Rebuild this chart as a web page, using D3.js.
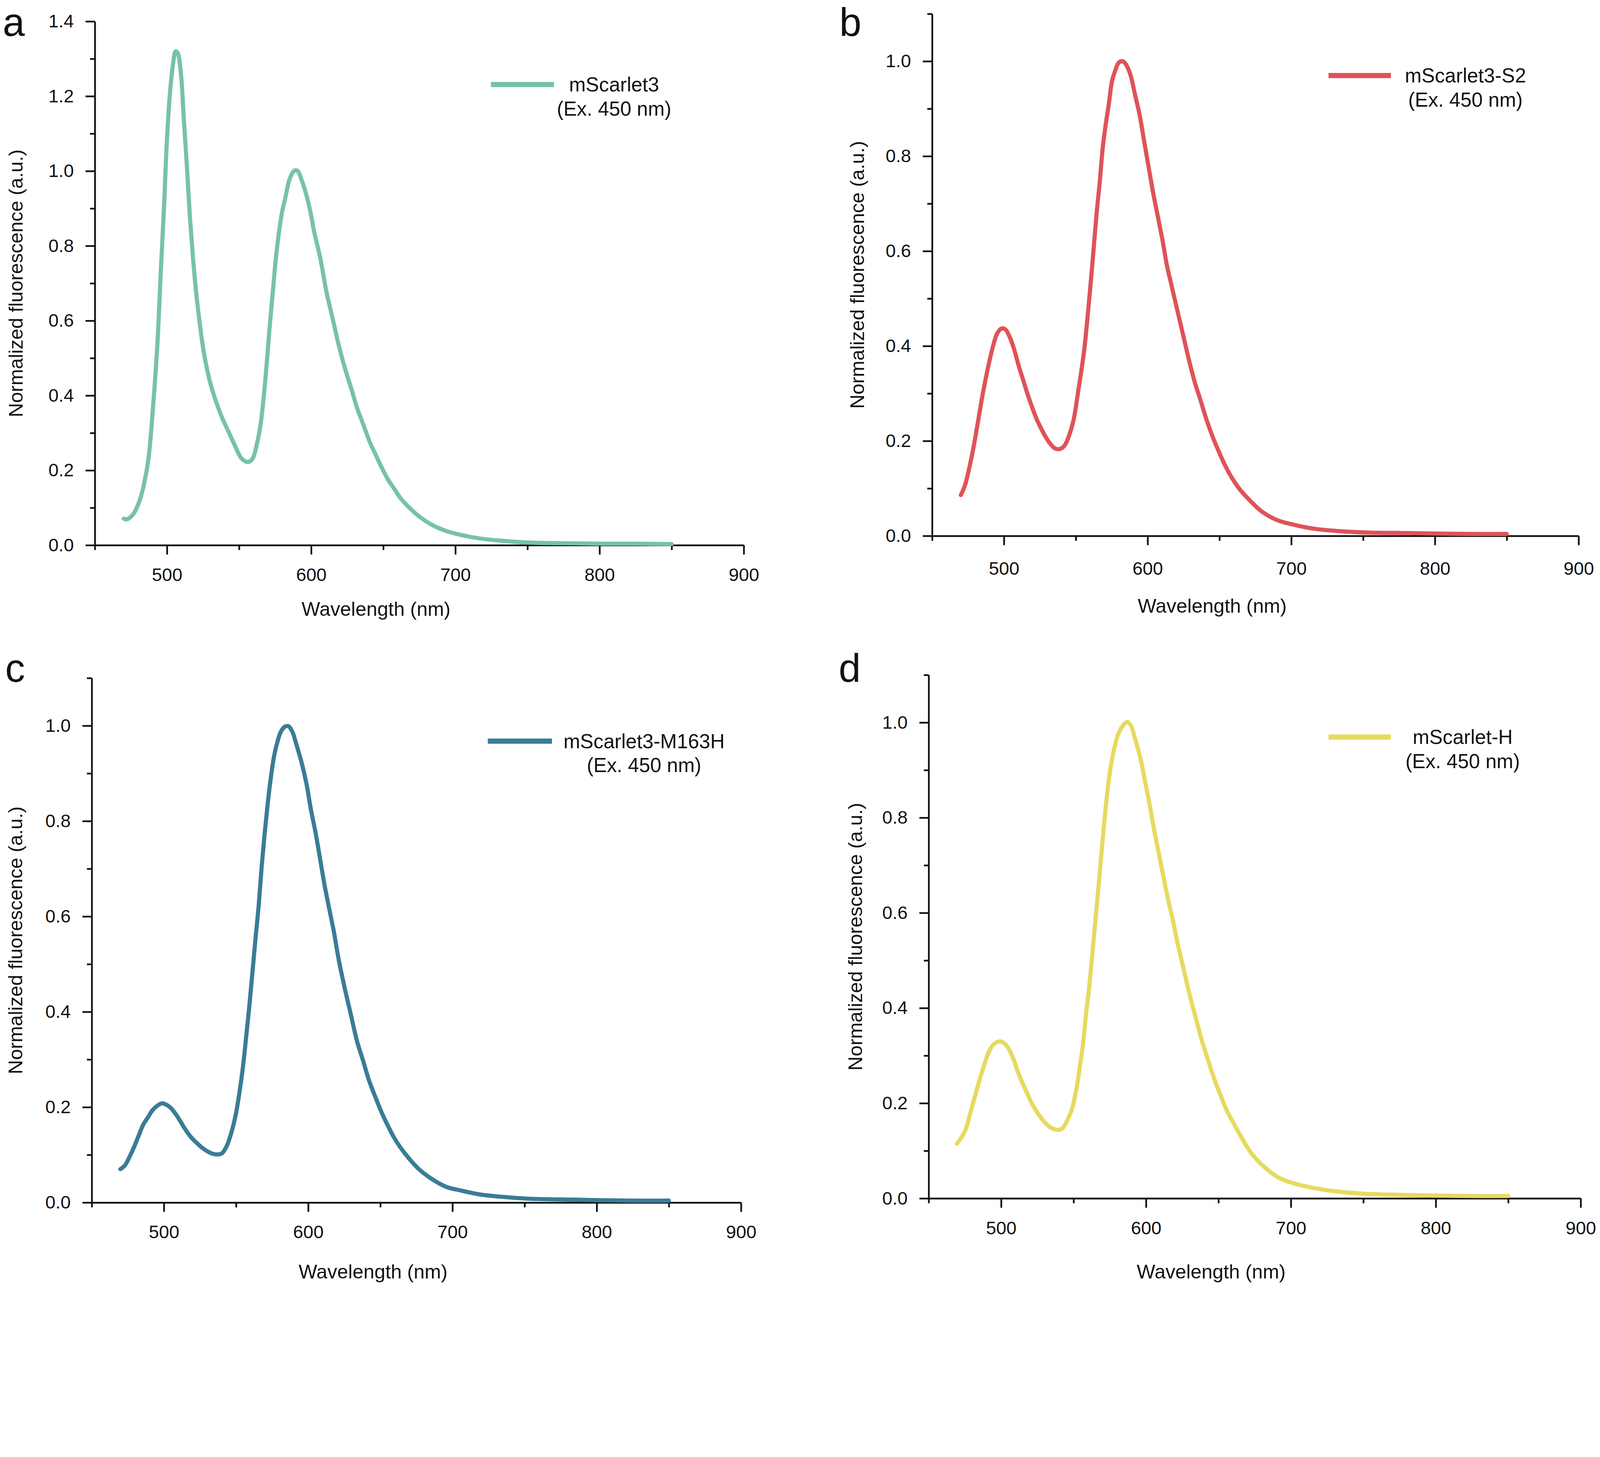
<!DOCTYPE html>
<html>
<head>
<meta charset="utf-8">
<script src="https://cdn.jsdelivr.net/npm/d3@7"></script>
<style>
  html, body { margin: 0; padding: 0; background: #fff; }
  svg { display: block; }
  text { font-family: "Liberation Sans", Arial, sans-serif; fill: #111; }
</style>
</head>
<body>
<script>
// emission spectra (wavelength in nm, normalized fluorescence)

var wlA = [470,472,476.6,480.9,484,487.2,489.4,491.5,493.6,495.7,497.9,500,502.1,504.3,506,507.4,509.6,511.7,513.8,516,518.1,520.2,522.3,525.5,529.8,534,538.3,542.6,546.8,551.1,554.3,557,559.6,562.8,564.9,567,569.1,571.3,573.4,575.5,577.7,579.8,581.9,585.1,588.3,590.4,593.6,596.8,600,602.1,606.4,610.6,614.9,619.1,623.4,627.7,631.9,636.2,640.4,644.7,649,653.2,657.4,661.7,668.1,674.5,683,693.6,704.3,717,731.9,751,782.6,800,825,850];
var fA = [0.071,0.069,0.083,0.118,0.162,0.233,0.322,0.429,0.553,0.730,0.899,1.085,1.209,1.289,1.320,1.316,1.263,1.138,1.014,0.872,0.766,0.677,0.606,0.517,0.437,0.384,0.340,0.304,0.269,0.235,0.224,0.223,0.233,0.278,0.322,0.393,0.482,0.588,0.677,0.766,0.837,0.890,0.925,0.979,1.001,1.001,0.974,0.934,0.881,0.837,0.766,0.677,0.606,0.535,0.473,0.420,0.366,0.322,0.278,0.242,0.207,0.176,0.152,0.127,0.100,0.078,0.056,0.038,0.027,0.018,0.012,0.007,0.005,0.004,0.004,0.003];

var wlB = [470,472.8,476,479.2,482.4,485.6,488.8,492,495.2,498.4,501,503.7,506.9,510.1,513.3,516.5,519.7,522.9,526.1,529.3,532.5,535.7,538.9,542.1,545.3,548.5,551.7,553.8,556,558.1,560.2,562.4,564.5,566.6,568.8,570.9,573,575.2,577.3,579.9,582.6,584.8,588,591.2,594.3,597.5,600.7,603.9,607.1,610.3,613.5,616.7,619.9,624.2,628.5,632.7,637,641.3,645.5,649.8,654,658.3,664.7,671.1,679.6,690.3,701,715.9,733,754.3,779.4,800,825,850];
var fB = [0.086,0.106,0.145,0.193,0.249,0.305,0.353,0.395,0.426,0.437,0.435,0.421,0.395,0.360,0.329,0.298,0.270,0.245,0.225,0.207,0.193,0.184,0.183,0.190,0.211,0.245,0.305,0.346,0.395,0.458,0.527,0.604,0.680,0.743,0.819,0.868,0.910,0.958,0.979,0.997,1.000,0.994,0.972,0.930,0.889,0.833,0.777,0.722,0.673,0.624,0.569,0.527,0.485,0.430,0.374,0.325,0.284,0.242,0.207,0.176,0.148,0.124,0.096,0.075,0.051,0.033,0.024,0.015,0.010,0.007,0.006,0.005,0.004,0.004];

var wlC = [469.8,473,476.2,479.4,482.6,485.8,489,492.2,495.4,498.6,501.8,504.9,508.1,511.3,514.5,518.8,523.1,527.3,531.6,535.9,540.1,543.3,546.5,549.7,552.9,555,557.2,559.3,561.4,563.5,565.7,567.8,569.9,572,574.2,576.3,578.4,581,583.8,586.3,589.1,591.6,595.5,598.7,601.9,605.1,608.3,611.4,614.6,617.8,621,625.3,629.6,633.8,638.1,642.3,646.6,650.9,655.1,659.4,663.6,670,676.4,684.9,695.6,706.2,719,734,753.1,784.6,800,825,850];
var fC = [0.070,0.078,0.096,0.117,0.141,0.164,0.179,0.194,0.203,0.208,0.205,0.198,0.186,0.171,0.155,0.137,0.124,0.113,0.105,0.101,0.103,0.117,0.144,0.183,0.242,0.290,0.353,0.415,0.484,0.554,0.623,0.706,0.776,0.838,0.893,0.935,0.963,0.987,0.998,0.999,0.987,0.963,0.922,0.880,0.824,0.776,0.720,0.665,0.616,0.568,0.512,0.450,0.394,0.339,0.297,0.255,0.221,0.189,0.162,0.137,0.117,0.092,0.071,0.051,0.033,0.025,0.017,0.012,0.008,0.006,0.005,0.004,0.004];

var wlD = [469.4,472.2,475.4,478.6,481.8,485,488.2,491.4,494.6,498.9,502.1,505.3,508.5,511.7,514.9,518.1,521.3,525.5,529.8,534.1,538.8,542.2,545.8,549,552.2,554.3,556.5,558.6,560.7,562.9,565,567.1,569.3,571.4,573.5,575.7,577.8,581,584.2,587,589.5,592.7,595.9,599.1,602.3,605.5,608.7,611.9,615.1,618.3,621.5,625.8,630.1,634.3,638.6,642.9,647.1,651.4,655.7,659.9,666.3,672.7,681.3,691.9,702.6,715.4,730.3,749.6,781.1,800,825,850];
var fD = [0.115,0.126,0.144,0.178,0.213,0.248,0.279,0.307,0.323,0.330,0.326,0.314,0.293,0.265,0.241,0.220,0.199,0.178,0.161,0.149,0.144,0.147,0.165,0.189,0.234,0.276,0.324,0.387,0.442,0.512,0.581,0.651,0.727,0.797,0.859,0.908,0.942,0.977,0.994,1.001,0.994,0.963,0.928,0.880,0.831,0.776,0.727,0.678,0.630,0.588,0.540,0.484,0.428,0.380,0.331,0.290,0.251,0.217,0.185,0.161,0.126,0.095,0.067,0.043,0.031,0.022,0.015,0.010,0.007,0.006,0.005,0.005];

var names = ["mScarlet3", "mScarlet3-S2", "mScarlet3-M163H", "mScarlet-H"];
var letters = ["a", "b", "c", "d"];
var exNote = "(Ex. 450 nm)";
var colors = ["#77c2a9", "#df5358", "#3a7c96", "#e6da60"];
var yMaxes = [1.4, 1.1, 1.1, 1.1];
var xMajor = [500, 600, 700, 800, 900];
var xMinor = [450, 550, 650, 750, 850];
var yMajorA = [0, 0.2, 0.4, 0.6, 0.8, 1.0, 1.2, 1.4];
var yMinorA = [0.1, 0.3, 0.5, 0.7, 0.9, 1.1, 1.3];
var yMajor = [0, 0.2, 0.4, 0.6, 0.8, 1.0];
var yMinor = [0.1, 0.3, 0.5, 0.7, 0.9, 1.1];

var series = [d3.zip(wlA, fA), d3.zip(wlB, fB), d3.zip(wlC, fC), d3.zip(wlD, fD)];

// where each panel sits on the page
var layout = [
    { left: 275, right: 2156, top: 62, bottom: 1580, letterX: 8, letterY: 104,
      legX1: 1423, legX2: 1606, legY: 245, legTx: 1780, xTitleY: 1785, yTitleX: 66 },
    { left: 2702, right: 4576, top: 40, bottom: 1553, letterX: 2433, letterY: 104,
      legX1: 3851, legX2: 4032, legY: 219, legTx: 4248, xTitleY: 1776, yTitleX: 2505 },
    { left: 266, right: 2148, top: 1965, bottom: 3485, letterX: 15, letterY: 1976,
      legX1: 1414, legX2: 1600, legY: 2148, legTx: 1867, xTitleY: 3705, yTitleX: 64 },
    { left: 2692, right: 4582, top: 1956, bottom: 3473, letterX: 2431, letterY: 1976,
      legX1: 3851, legX2: 4032, legY: 2136, legTx: 4240, xTitleY: 3705, yTitleX: 2499 }
];

var W = 4638, H = 3729;
// scale to the window width, keep the drawing pinned to the top
var svg = d3.select("body").append("svg")
    .attr("viewBox", "0 0 " + W + " " + H)
    .attr("preserveAspectRatio", "xMidYMin meet")
    .attr("width", "100%");
svg.append("rect").attr("width", W).attr("height", H).attr("fill", "#fff");

function styleAxis(sel) {
    sel.attr("font-family", null).attr("font-size", null);
    sel.selectAll(".domain").attr("stroke", "#111").attr("stroke-width", 5);
    sel.selectAll(".tick line").attr("stroke", "#111").attr("stroke-width", 5);
    sel.selectAll(".tick text").attr("font-size", 53).attr("fill", "#111");
}

layout.forEach(function(p, i) {
    var x = d3.scaleLinear().domain([450, 900]).range([p.left, p.right]);
    var y = d3.scaleLinear().domain([0, yMaxes[i]]).range([p.bottom, p.top]);
    var g = svg.append("g");

    var majY = i == 0 ? yMajorA : yMajor;
    var minY = i == 0 ? yMinorA : yMinor;

    // minor ticks first, then the labelled axes on top
    g.append("g")
        .attr("transform", "translate(0," + p.bottom + ")")
        .call(d3.axisBottom(x).tickValues(xMinor).tickSize(14).tickFormat(""))
        .call(function(s) { s.select(".domain").remove(); })
        .call(styleAxis);
    g.append("g")
        .attr("transform", "translate(" + p.left + ",0)")
        .call(d3.axisLeft(y).tickValues(minY).tickSize(14).tickFormat(""))
        .call(function(s) { s.select(".domain").remove(); })
        .call(styleAxis);

    g.append("g")
        .attr("transform", "translate(0," + p.bottom + ")")
        .call(d3.axisBottom(x).tickValues(xMajor).tickSize(27).tickSizeOuter(0)
            .tickPadding(i == 1 ? 48 : 39).tickFormat(d3.format("d")))
        .call(styleAxis);
    g.append("g")
        .attr("transform", "translate(" + p.left + ",0)")
        .call(d3.axisLeft(y).tickValues(majY).tickSize(27).tickSizeOuter(0)
            .tickPadding(34).tickFormat(d3.format(".1f")))
        .call(styleAxis);

    var line = d3.line()
        .x(function(d) { return x(d[0]); })
        .y(function(d) { return y(d[1]); })
        .curve(d3.curveCatmullRom.alpha(0.5));

    g.append("path")
        .datum(series[i])
        .attr("d", line)
        .attr("fill", "none")
        .attr("stroke", colors[i])
        .attr("stroke-width", 12)
        .attr("stroke-linejoin", "round")
        .attr("stroke-linecap", "round");

    // legend
    g.append("line")
        .attr("x1", p.legX1).attr("x2", p.legX2)
        .attr("y1", p.legY).attr("y2", p.legY)
        .attr("stroke", colors[i])
        .attr("stroke-width", 15);
    g.append("text")
        .attr("x", p.legTx).attr("y", p.legY + 20)
        .attr("text-anchor", "middle")
        .attr("font-size", 58)
        .text(names[i]);
    g.append("text")
        .attr("x", p.legTx).attr("y", p.legY + 90)
        .attr("text-anchor", "middle")
        .attr("font-size", 58)
        .text(exNote);

    // axis titles
    g.append("text")
        .attr("x", x(645)).attr("y", p.xTitleY)
        .attr("text-anchor", "middle")
        .attr("font-size", 57)
        .text("Wavelength (nm)");
    g.append("text")
        .attr("transform", "translate(" + p.yTitleX + "," + ((p.top + p.bottom) / 2) + ") rotate(-90)")
        .attr("text-anchor", "middle")
        .attr("font-size", 57)
        .text("Normalized fluorescence (a.u.)");

    // panel letter
    g.append("text")
        .attr("x", p.letterX).attr("y", p.letterY)
        .attr("font-size", 115)
        .text(letters[i]);
});
</script>
</body>
</html>
